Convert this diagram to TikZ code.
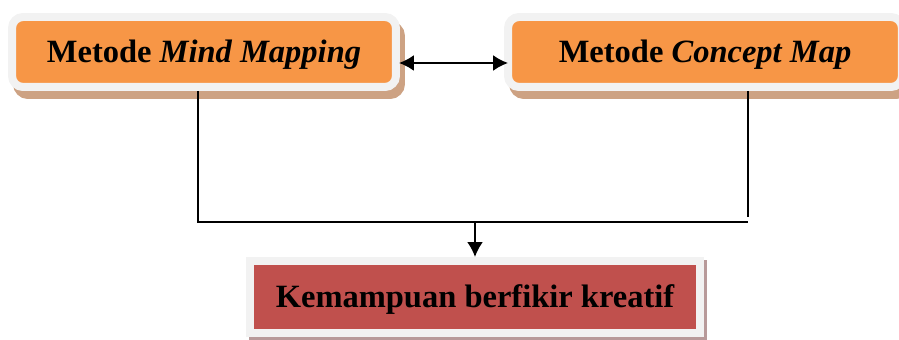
\documentclass[tikz,border=0pt]{standalone}
\usepackage{fontspec}
\setmainfont{Liberation Serif}
\usetikzlibrary{arrows.meta,shadows,calc}

\definecolor{boxorange}{HTML}{F79646}
\definecolor{boxred}{HTML}{C0504D}
\definecolor{framegray}{HTML}{F2F2F2}
\definecolor{shadetan}{HTML}{CDA283}
\definecolor{shadered}{HTML}{B89A9A}

\tikzset{
  methodbox/.style={draw=framegray, line width=0.16cm, fill=boxorange,
    rounded corners=0.22cm, minimum height=1.4cm, inner sep=0pt,
    text height=0.44cm, text depth=0pt,
    font=\fontsize{18.5}{22}\selectfont\bfseries,
    drop shadow={shadow xshift=0.1cm, shadow yshift=-0.16cm,
      fill=shadetan, draw=shadetan, line width=0.16cm, opacity=1}},
  resultbox/.style={draw=framegray, line width=0.16cm, fill=boxred,
    minimum width=9cm, minimum height=1.44cm, inner sep=0pt,
    text height=0.44cm, text depth=0pt,
    font=\fontsize{18.5}{22}\selectfont\bfseries,
    drop shadow={shadow xshift=0.06cm, shadow yshift=-0.06cm,
      fill=shadered, draw=shadered, line width=0.16cm, opacity=1}},
  link/.style={line width=0.04cm},
  headtip/.tip={Latex[length=0.3cm,width=0.32cm]}
}

\begin{document}
\begin{tikzpicture}[x=0.02cm, y=-0.02cm]
  \useasboundingbox (0,0) rectangle (899,340);

  \node[methodbox, minimum width=7.68cm] (mind) at (204,52) {Metode \textit{Mind Mapping}};
  \node[methodbox, minimum width=7.88cm] (concept) at (705,52) {Metode \textit{Concept Map}};
  \node[resultbox] (kreatif) at (475,297) {Kemampuan berfikir kreatif};

  % join of both methods
  \coordinate (leftdown) at (198,222);
  \coordinate (rightdown) at (748,222);
  \coordinate (rightend) at (748,217);
  \coordinate (drop) at (475,222);

  \draw[link, headtip-headtip]
    ($(mind.east)+(-1,11)$) -- ($(concept.west)+(4,11)$);

  \draw[link] (leftdown |- mind.south) -- (leftdown) -- (rightdown);
  \draw[link] (rightend |- concept.south) -- (rightend);
  \draw[link, -headtip] (drop) -- (kreatif.north);
\end{tikzpicture}
\end{document}
